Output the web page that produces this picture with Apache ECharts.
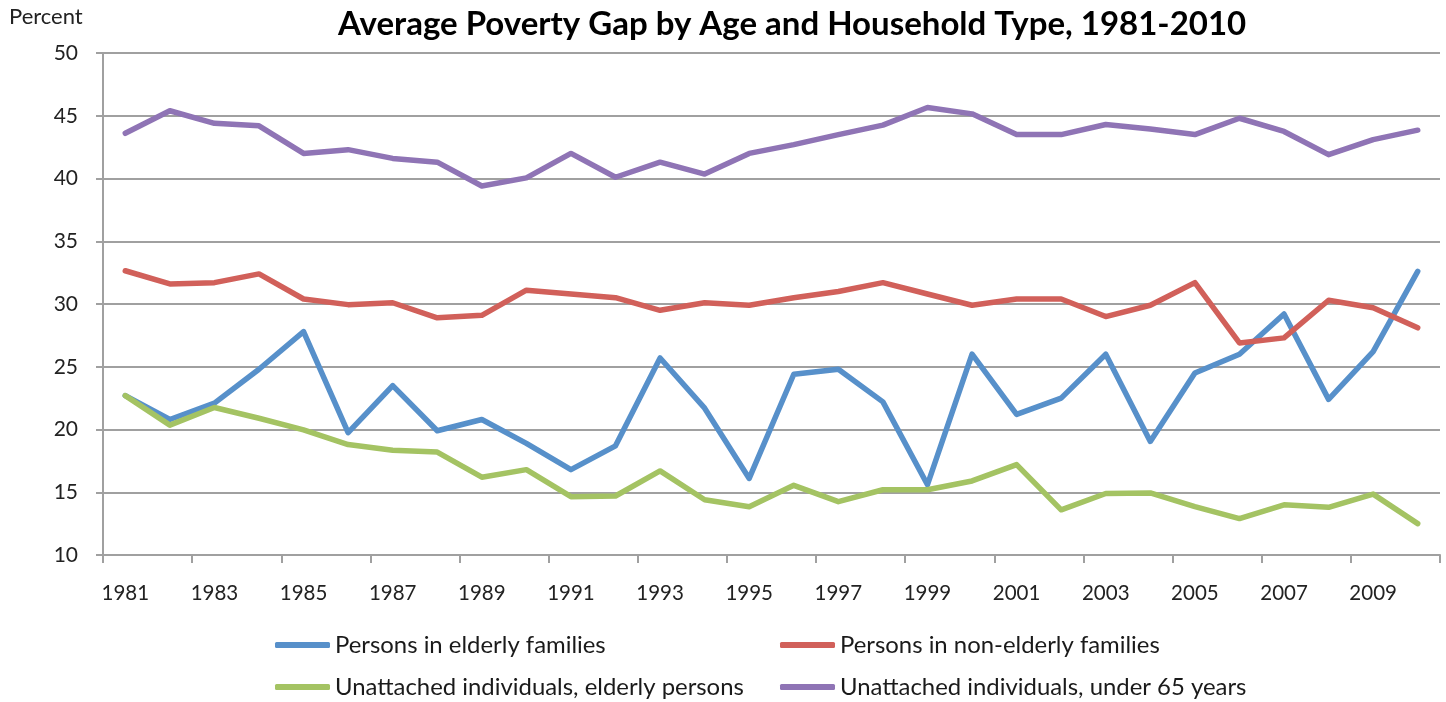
<!DOCTYPE html>
<html>
<head>
<meta charset="utf-8">
<script src="https://cdn.jsdelivr.net/npm/echarts@6/dist/echarts.min.js"></script>
<style>
html,body{margin:0;padding:0;background:#fff;}
#chart{width:1446px;height:702px;}
</style>
</head>
<body>
<div id="chart"></div>
<script>
// ---- data ----
const years = ['1981','1982','1983','1984','1985','1986','1987','1988','1989','1990',
  '1991','1992','1993','1994','1995','1996','1997','1998','1999','2000',
  '2001','2002','2003','2004','2005','2006','2007','2008','2009','2010'];
const personsElderlyFamilies = [22.7, 20.8, 22.1, 24.8, 27.8, 19.75, 23.5, 19.9, 20.8, 18.9,
  16.8, 18.7, 25.7, 21.7, 16.1, 24.4, 24.8, 22.2, 15.6, 26.0,
  21.2, 22.5, 26.0, 19.05, 24.5, 26.0, 29.2, 22.4, 26.2, 32.6];
const personsNonElderlyFamilies = [32.65, 31.6, 31.7, 32.4, 30.4, 29.95, 30.1, 28.9, 29.1, 31.1,
  30.8, 30.5, 29.5, 30.1, 29.9, 30.5, 31.0, 31.7, 30.8, 29.9,
  30.4, 30.4, 29.0, 29.9, 31.7, 26.9, 27.3, 30.3, 29.7, 28.1];
const unattachedElderly = [22.7, 20.35, 21.75, 20.9, 19.97, 18.8, 18.35, 18.2, 16.2, 16.8,
  14.65, 14.7, 16.7, 14.4, 13.85, 15.55, 14.25, 15.2, 15.2, 15.9,
  17.2, 13.6, 14.9, 14.95, 13.86, 12.9, 14.0, 13.8, 14.85, 12.5];
const unattachedUnder65 = [43.6, 45.4, 44.4, 44.2, 42.0, 42.3, 41.6, 41.3, 39.4, 40.05,
  42.0, 40.1, 41.3, 40.35, 42.0, 42.7, 43.5, 44.25, 45.66, 45.15,
  43.5, 43.5, 44.3, 43.95, 43.5, 44.8, 43.75, 41.9, 43.1, 43.85];
const seriesNames = ['Persons in elderly families', 'Persons in non-elderly families',
  'Unattached individuals, elderly persons', 'Unattached individuals, under 65 years'];
const titleText = 'Average Poverty Gap by Age and Household Type, 1981-2010';
const yAxisTitle = 'Percent';

// ---- styling ----
const FONT = 'Lato, "Open Sans", sans-serif';
const colors = ['#5790CA', '#D1605A', '#A4C363', '#8F74B5'];
const gridColor = '#A0A0A0';

const cv = document.createElement('canvas').getContext('2d');
function fitSize(text, weight, target) {
  cv.font = weight + ' 100px ' + FONT;
  const w = cv.measureText(text).width;
  return Math.round(target / w * 100 * 10) / 10;
}
const titleSize = fitSize(titleText, 'bold', 909);
const legendSize = fitSize(seriesNames[0], 'normal', 271);

const chart = echarts.init(document.getElementById('chart'), null, {renderer: 'canvas'});
const seriesData = [personsElderlyFamilies, personsNonElderlyFamilies, unattachedElderly, unattachedUnder65];
const legendPos = [[275, 645], [780, 645], [275, 687], [780, 687]];

const option = {
  animation: false,
  backgroundColor: '#fff',
  graphic: [
    {type: 'text', left: 338, top: 8, style: {text: titleText, fill: '#000', font: 'bold ' + titleSize + 'px ' + FONT}},
    {type: 'text', left: 9, top: 6, style: {text: yAxisTitle, fill: '#222', font: '22px ' + FONT}}
  ],
  grid: {left: 103, right: 6, top: 53, bottom: 147},
  legend: seriesNames.map((n, i) => ({
    data: [n], left: legendPos[i][0], top: legendPos[i][1] - 12, padding: 0,
    itemWidth: 55, itemHeight: 6, icon: 'roundRect', itemGap: 4,
    textStyle: {fontFamily: FONT, fontSize: legendSize, color: '#1a1a1a', lineHeight: 24, height: 24}
  })),
  xAxis: {
    type: 'category', data: years, boundaryGap: true,
    axisLine: {lineStyle: {color: gridColor, width: 2}},
    axisTick: {show: true, length: 8, lineStyle: {color: gridColor, width: 2}},
    axisLabel: {interval: 1, margin: 28, fontFamily: FONT, fontSize: 20.5, color: '#222'},
    splitLine: {show: false}
  },
  yAxis: {
    type: 'value', min: 10, max: 50, interval: 5,
    axisLine: {show: true, lineStyle: {color: gridColor, width: 2}},
    axisTick: {show: true, length: 7, lineStyle: {color: gridColor, width: 2}},
    axisLabel: {margin: 25, fontFamily: FONT, fontSize: 21, color: '#222'},
    splitLine: {show: true, lineStyle: {color: gridColor, width: 2}}
  },
  series: seriesNames.map((n, i) => ({
    name: n, type: 'line', data: seriesData[i], symbol: 'none', smooth: false,
    color: colors[i],
    lineStyle: {color: colors[i], width: 5.5, cap: 'round', join: 'round'}
  }))
};
chart.setOption(option);
</script>
</body>
</html>
